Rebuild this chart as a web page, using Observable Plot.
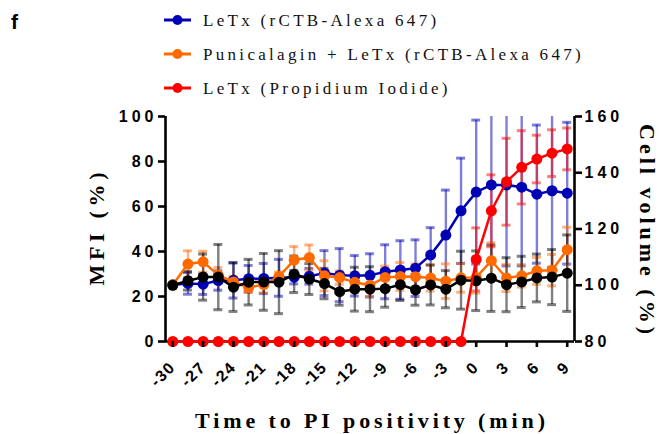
<!DOCTYPE html>
<html>
<head>
<meta charset="utf-8">
<script src="https://cdn.jsdelivr.net/npm/d3@7"></script>
<script src="https://cdn.jsdelivr.net/npm/@observablehq/plot@0.6"></script>
<style>
  body { margin: 0; background: #fff; }
  #wrap { width: 661px; height: 434px; position: relative; overflow: hidden; background: #fff; }
  #wrap svg { display: block; }
  g[aria-label="y-axis tick label"] text { letter-spacing: 4px; }
  g[aria-label="x-axis tick label"] text { letter-spacing: 1.5px; }
</style>
</head>
<body>
<div id="wrap"></div>
<script>
// ---- data ----
const times = [-30, -28.5, -27, -25.5, -24, -22.5, -21, -19.5, -18, -16.5, -15, -13.5, -12, -10.5,
               -9, -7.5, -6, -4.5, -3, -1.5, 0, 1.5, 3, 4.5, 6, 7.5, 9];

// LeTx (rCTB-Alexa 647) — MFI (%)
const blueMean = [25.2, 25.8, 25.5, 27.1, 27.2, 27.9, 28.0, 28.3, 28.6, 29.0, 30.4, 29.5, 29.2, 29.4,
                  31.0, 31.8, 32.6, 38.5, 47.3, 58.1, 66.4, 69.6, 69.6, 68.6, 65.5, 67.0, 65.9];
const blueSD   = [0, 4.8, 4.6, 4.3, 7.9, 5.9, 6.7, 8.2, 3.0, 3.5, 10.0, 11.8, 9.0, 9.6,
                  12.0, 13.0, 12.6, 12.1, 20.0, 23.4, 32.0, 34.0, 36.0, 35.0, 30.7, 34.0, 31.5];

// Punicalagin + LeTx (rCTB-Alexa 647) — MFI (%)
const orangeMean = [25.2, 34.4, 35.4, 29.5, 26.5, 24.0, 25.3, 28.9, 36.2, 37.3, 29.2, 28.4, 26.3, 25.0,
                    28.5, 28.9, 28.8, 28.2, 26.8, 28.3, 28.5, 35.9, 28.2, 29.2, 31.4, 31.7, 40.8];
const orangeSD   = [0, 5.9, 4.7, 3.4, 2.5, 2.2, 3.7, 2.0, 6.0, 5.6, 6.7, 3.0, 4.3, 5.0,
                    5.0, 6.2, 5.7, 5.8, 7.7, 6.4, 7.0, 8.0, 6.0, 5.0, 6.0, 7.0, 10.0];

// LeTx (Propidium Iodide) — MFI (%)
const redMean = [0, 0, 0, 0, 0, 0, 0, 0, 0, 0, 0, 0, 0, 0,
                 0, 0, 0, 0, 0, 0, 36.5, 58.1, 71.0, 77.4, 81.1, 83.7, 85.6];
const redSD   = [0, 0, 0, 0, 0, 0, 0, 0, 0, 0, 0, 0, 0, 0,
                 0, 0, 0, 0, 0, 0, 14.0, 16.0, 19.3, 16.3, 10.6, 10.4, 9.3];

// Cell volume (%) — right axis
const volMean = [100.0, 101.6, 102.9, 102.9, 99.3, 101.1, 101.2, 101.1, 103.9, 102.2, 100.6, 97.7, 98.6, 98.6,
                 98.8, 100.2, 98.4, 100.1, 98.6, 101.8, 101.6, 102.5, 100.2, 101.2, 102.6, 102.9, 104.3];
const volSD   = [0, 3.3, 8.2, 11.6, 8.6, 8.1, 10.1, 11.2, 6.5, 5.5, 5.4, 4.8, 7.8, 8.0,
                 6.6, 5.6, 5.5, 7.1, 6.6, 10.3, 10.6, 11.8, 9.6, 9.1, 8.5, 9.8, 13.6];

const seriesNames = ["LeTx (rCTB-Alexa 647)", "Punicalagin + LeTx (rCTB-Alexa 647)", "LeTx (Propidium Iodide)"];
const seriesColors = ["#0000b4", "#ff6a00", "#ff0000"];
const volColor = "#000000";

const xTicks = [-30, -27, -24, -21, -18, -15, -12, -9, -6, -3, 0, 3, 6, 9];
const leftTicks = [0, 20, 40, 60, 80, 100];
const rightTicks = [80, 100, 120, 140, 160];

// ---- scales helpers ----
const leftDomain = [0, 100];
const rightDomain = [80, 160];
const volToLeft = v => (v - rightDomain[0]) * (leftDomain[1] - leftDomain[0]) / (rightDomain[1] - rightDomain[0]);
const ident = v => v;
const xDomain = [-30.72, 9.72];
const capHalf = 0.44;

function makeSeries(mean, sd, map) {
  return times.map((t, i) => ({
    t, sd: sd[i],
    y: map(mean[i]),
    lo: map(mean[i] - sd[i]),
    hi: map(mean[i] + sd[i])
  }));
}

const blue = makeSeries(blueMean, blueSD, ident);
const orange = makeSeries(orangeMean, orangeSD, ident);
const red = makeSeries(redMean, redSD, ident);
const vol = makeSeries(volMean, volSD, volToLeft);

function errMarks(data, color) {
  const d = data.filter(e => e.sd > 0);
  return [
    Plot.ruleX(d, {x: "t", y1: "lo", y2: "hi", stroke: color, strokeOpacity: 0.5, strokeWidth: 2.4, clip: true}),
    Plot.ruleY(d, {y: "hi", x1: e => e.t - capHalf, x2: e => e.t + capHalf, stroke: color, strokeOpacity: 0.5, strokeWidth: 3, clip: true}),
    Plot.ruleY(d, {y: "lo", x1: e => e.t - capHalf, x2: e => e.t + capHalf, stroke: color, strokeOpacity: 0.5, strokeWidth: 3, clip: true})
  ];
}
function seriesMarks(data, color) {
  return [
    Plot.line(data, {x: "t", y: "y", stroke: color, strokeWidth: 2.5}),
    Plot.dot(data, {x: "t", y: "y", r: 5.5, fill: color, stroke: "none"})
  ];
}

const rightPos = rightTicks.map(volToLeft);

const wrap = document.getElementById("wrap");

// ---- header: panel letter + legend ----
const header = d3.create("svg").attr("width", 661).attr("height", 104);
header.append("text").attr("x", 11).attr("y", 29)
  .attr("font-family", "Liberation Sans, Arial, sans-serif").attr("font-weight", "bold").attr("font-size", 21)
  .text("f");
const legendY = [20, 54, 88];
seriesNames.forEach((name, i) => {
  const g = header.append("g");
  g.append("line").attr("x1", 164).attr("x2", 191).attr("y1", legendY[i]).attr("y2", legendY[i])
    .attr("stroke", seriesColors[i]).attr("stroke-width", 3);
  g.append("circle").attr("cx", 177.5).attr("cy", legendY[i]).attr("r", 5).attr("fill", seriesColors[i]);
  g.append("text").attr("x", 203).attr("y", legendY[i] + 6)
    .attr("font-family", "Liberation Serif, Times New Roman, serif").attr("font-size", 17)
    .attr("letter-spacing", "3.3px").attr("fill", "#111")
    .text(name);
});
wrap.appendChild(header.node());

// ---- chart ----
const serif = "Liberation Serif, Times New Roman, serif";
const chart = Plot.plot({
  width: 661,
  height: 330,
  marginTop: 12,
  marginBottom: 93,
  marginLeft: 165,
  marginRight: 87,
  style: {fontFamily: "Liberation Sans, Arial, sans-serif", background: "white", overflow: "visible", color: "#000"},
  x: {domain: xDomain},
  y: {domain: leftDomain},
  marks: [
    ...errMarks(blue, seriesColors[0]),
    ...errMarks(orange, seriesColors[1]),
    ...errMarks(vol, "#000"),
    ...errMarks(red, seriesColors[2]),
    Plot.ruleY([leftDomain[0]], {stroke: "#000", strokeWidth: 2.6}),
    Plot.ruleX([xDomain[0]], {stroke: "#000", strokeWidth: 2.6}),
    Plot.ruleX([xDomain[1]], {stroke: "#000", strokeWidth: 2.6}),
    ...seriesMarks(blue, seriesColors[0]),
    ...seriesMarks(orange, seriesColors[1]),
    ...seriesMarks(vol, volColor),
    ...seriesMarks(red, seriesColors[2]),
    Plot.axisY({anchor: "left", ticks: leftTicks, tickSize: 7, tickPadding: 1, fontSize: 16, fontWeight: "bold",
                strokeWidth: 2.6, label: null}),
    Plot.axisY({anchor: "right", ticks: rightPos, tickFormat: d => String(rightTicks[rightPos.indexOf(d)]),
                tickSize: 7, tickPadding: 3, fontSize: 16, fontWeight: "bold", strokeWidth: 2.6, label: null}),
    Plot.axisX({ticks: xTicks, tickFormat: d => String(d), tickRotate: -45, tickSize: 6, tickPadding: 17,
                fontSize: 16, fontWeight: "bold", strokeWidth: 2.6, label: null}),
    Plot.text(["MFI (%)"], {frameAnchor: "left", textAnchor: "middle", dx: -69, rotate: -90, fontSize: 22,
                fontWeight: "bold", fontFamily: serif}),
    Plot.text(["Cell volume (%)"], {frameAnchor: "right", textAnchor: "middle", dx: 73, rotate: 90, fontSize: 22,
                fontWeight: "bold", fontFamily: serif}),
    Plot.text(["Time to PI positivity (min)"], {frameAnchor: "bottom", textAnchor: "middle", dy: 86, fontSize: 22,
                fontWeight: "bold", fontFamily: serif})
  ]
});
wrap.appendChild(chart);

// stretch spaced titles like the original
const lengths = {"MFI (%)": 113, "Cell volume (%)": 210, "Time to PI positivity (min)": 350};
d3.select(chart).selectAll("text").each(function() {
  const t = this.textContent;
  if (lengths[t]) d3.select(this).attr("textLength", lengths[t]).attr("lengthAdjust", "spacing");
});
</script>
</body>
</html>
